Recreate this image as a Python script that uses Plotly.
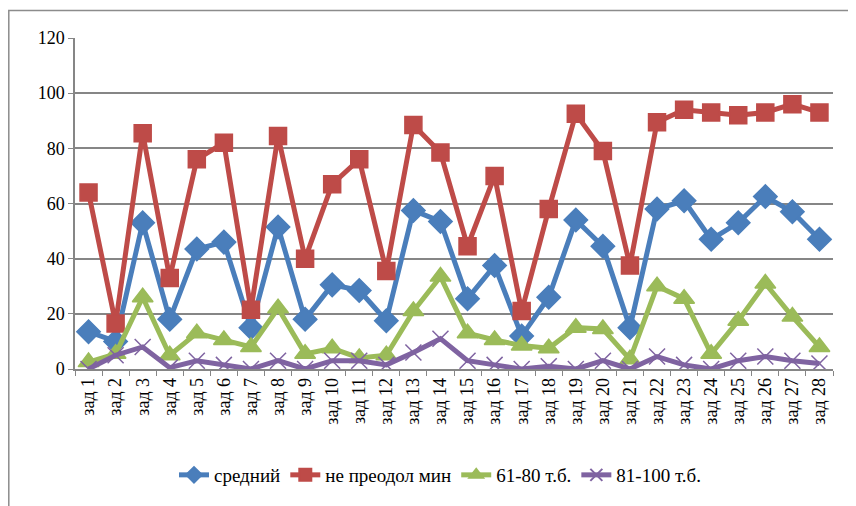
import plotly.graph_objects as go

categories = [f"зад {i}" for i in range(1, 29)]

srednij = [13.5, 10, 53, 18, 43.5, 46, 15, 51.5, 18, 30.5, 28.5, 17.5, 57.5, 53.5,
           25.5, 37.5, 12, 26, 54, 44.5, 15, 58, 61, 47, 53, 62.5, 57, 47]
ne_preodol = [64, 16.5, 85.5, 33, 76, 82, 21.5, 84.5, 40, 67, 76, 35.5, 88.5, 78.5,
              44.5, 70, 21, 58, 92.5, 79, 37.5, 89.5, 94, 93, 92, 93, 96, 93]
tb_61_80 = [2.5, 5.5, 26, 5, 13, 10.5, 8, 22, 5.5, 7.5, 4, 5, 21, 33.5,
            13, 10.5, 8.5, 7.5, 15, 14.5, 3.5, 30, 25.5, 5.5, 17.5, 31, 19, 8]
tb_81_100 = [0, 5, 8, 0.5, 3, 1.5, 0, 3, 0, 3, 3, 1.5, 6, 11,
             3, 1.5, 0, 1, 0, 3, 0, 4.5, 1.5, 0, 3, 4.5, 3, 2]

series = [
    ("средний", srednij, "#4A7EBB", "diamond", 18),
    ("не преодол мин", ne_preodol, "#BE4B48", "square", 17),
    ("61-80 т.б.", tb_61_80, "#9BBB59", "triangle-up", 18),
    ("81-100 т.б.", tb_81_100, "#7F63A1", "x-thin-open", 16),
]

FONT = "Liberation Serif, Times New Roman, DejaVu Serif, serif"

fig = go.Figure()
for name, vals, color, sym, size in series:
    fig.add_trace(go.Scatter(
        x=categories, y=vals, name=name, mode="lines+markers",
        line=dict(color=color, width=5),
        marker=dict(symbol=sym, size=size, color=color,
                    line=dict(color=color, width=1.5)),
    ))

# page has 8px body margin; figure coords = page coords - 8
OFF = 8
W, H = 856 - OFF, 506 - OFF
L, R, T, B = 75 - OFF, 833 - OFF, 38 - OFF, 369 - OFF
pw, ph = R - L, B - T

def px(x):
    return (x - OFF - L) / pw

def py(y):
    return (B - (y - OFF)) / ph

fig.update_layout(
    width=W, height=H,
    margin=dict(l=L, r=W - R, t=T, b=H - B),
    paper_bgcolor="white", plot_bgcolor="white",
    font=dict(family=FONT, size=18, color="black"),
    showlegend=True,
    legend=dict(orientation="h", x=px(440), xanchor="center", y=py(475), yanchor="middle",
                font=dict(family=FONT, size=19), tracegroupgap=0, itemsizing="constant"),
    shapes=[dict(type="rect", xref="paper", yref="paper",
                 x0=px(8.8), x1=px(880), y0=py(530), y1=py(10.5),
                 line=dict(color="#8C8C8C", width=1.5), fillcolor="rgba(0,0,0,0)",
                 layer="below")],
)
fig.update_xaxes(
    type="category", tickangle=-90, showgrid=False,
    showline=True, linecolor="#868686", linewidth=1.5,
    ticks="outside", tickson="boundaries", ticklen=5, tickcolor="#868686",
    tickfont=dict(family=FONT, size=18), range=[-0.5, 27.5],
)
fig.update_yaxes(
    range=[0, 120], dtick=20, showgrid=True, gridcolor="#868686", gridwidth=1.5,
    showline=True, linecolor="#868686", linewidth=1.5,
    ticks="outside", ticklen=5, tickcolor="#868686",
    tickfont=dict(family=FONT, size=18), zeroline=False,
)

fig.write_html("out.html")
